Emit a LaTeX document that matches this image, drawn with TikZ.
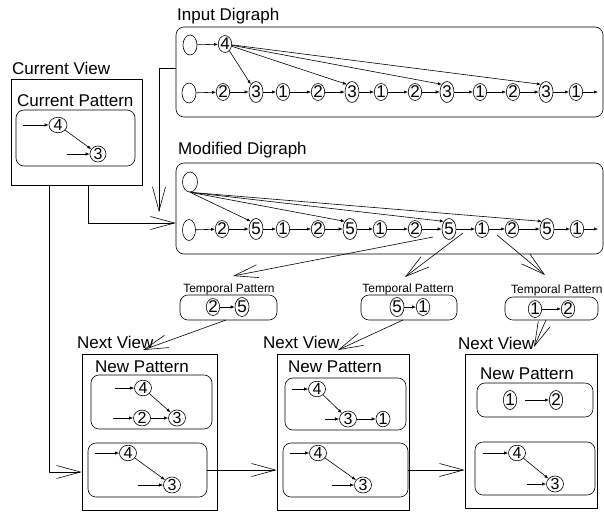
\documentclass[tikz,border=0pt]{standalone}
\usepackage{fontspec}
\setmainfont{Liberation Sans}
\usetikzlibrary{shapes.geometric,arrows.meta,fit}
\begin{document}
\begin{tikzpicture}[x=1pt,y=-1pt,
  ln/.style={line width=0.6pt},
  rbox/.style={draw, ln, rounded corners=8pt, inner sep=0pt},
  sqbox/.style={draw, ln, inner sep=0pt},
  ell/.style={ellipse, draw, ln, inner sep=0pt, minimum width=14pt, minimum height=20pt},
  dn/.style={ellipse, draw, ln, inner sep=0pt, minimum width=13pt, minimum height=17pt, font=\fontsize{17}{17}\selectfont},
  dnt/.style={dn, minimum width=14pt, minimum height=21pt},
  pn/.style={ellipse, draw, ln, inner sep=0pt, minimum width=17pt, minimum height=14pt, font=\fontsize{16}{16}\selectfont},
  ttl/.style={font=\fontsize{17}{17}\selectfont, anchor=base west, inner sep=0pt},
  tpl/.style={font=\fontsize{12}{12}\selectfont, anchor=base, inner sep=0pt},
  sa/.style={ln, -{Latex[length=4pt,width=3.2pt]}},
  ba/.style={ln, -{Straight Barb[length=24pt,width=13pt]}}
]
\useasboundingbox (0,0) rectangle (604,512);

% ---------- Input Digraph ----------
\node[ttl] (tin) at (177,20) {Input Digraph};
\node[rbox, fit={(176,27) (603,117)}] (inbox) {};
\node[ell] (ie1) at (190,45) {};
\node[dn] (i4) at (225,44) {4};
\draw[sa] (ie1) -- (i4);
\node[ell] (ie2) at (189,93) {};
\foreach \x/\l/\s [count=\i] in {223/2/dn,256/3/dnt,283/1/dn,318/2/dn,352/3/dnt,381/1/dn,415/2/dn,447/3/dnt,480/1/dn,513/2/dn,546/3/dnt,576/1/dn}
  {\node[\s] (ib\i) at (\x,92) {\l};}
\draw[sa] (ie2) -- (ib1);
\foreach \a/\b in {1/2,2/3,3/4,4/5,5/6,6/7,7/8,8/9,9/10,10/11,11/12}
  {\draw[sa] (ib\a) -- (ib\b);}
\coordinate (iend) at (598,92);
\draw[sa] (ib12) -- (iend);
\foreach \j in {2,5,8,11} {\draw[sa] (i4) -- (ib\j.north west);}

% ---------- Modified Digraph ----------
\node[ttl] (tmod) at (178,154) {Modified Digraph};
\node[rbox, fit={(176,163) (603,254)}] (modbox) {};
\node[ell, minimum width=15pt] (me1) at (190,182) {};
\node[ell, minimum width=13pt, minimum height=21pt] (me2) at (189,230) {};
\foreach \x/\l/\s [count=\i] in {222/2/dn,256/5/dnt,283/1/dn,318/2/dn,350/5/dnt,380/1/dn,415/2/dn,449/5/dnt,482/1/dn,512/2/dn,547/5/dnt,577/1/dn}
  {\node[\s] (mb\i) at (\x,229) {\l};}
\draw[sa] (me2) -- (mb1);
\foreach \a/\b in {1/2,2/3,3/4,4/5,5/6,6/7,7/8,8/9,9/10,10/11,11/12}
  {\draw[sa] (mb\a) -- (mb\b);}
\coordinate (mend) at (598,229);
\draw[sa] (mb12) -- (mend);
\foreach \j in {2,5,8,11} {\draw[sa] (me1.south) -- (mb\j.north west);}

% ---------- Current View ----------
\node[ttl] (tcv) at (12,74) {Current View};
\node[sqbox, fit={(11,79) (142,185)}] (cv) {};
\node[ttl] (tcp) at (17,106) {Current Pattern};
\node[rbox, fit={(16,110) (135,166)}] (cp) {};
\node[pn, minimum width=18pt] (g4) at (58,125) {4};
\node[pn, minimum width=16pt, minimum height=13pt] (g3) at (98,154) {3};
\coordinate (g4in) at (23,125);
\coordinate (g3in) at (67,154);
\draw[sa] (g4in) -- (g4);
\draw[sa] (g3in) -- (g3);
\draw[sa] (g4) -- (g3);

% ---------- connectors between views and digraphs ----------
\coordinate (dtip) at (159,212);
\draw[ba] ([yshift=4pt]inbox.west) -| (dtip);
\draw[ba] ([xshift=11.5pt]cv.south) |- ([yshift=-14.5pt]modbox.west);

% ---------- Temporal Patterns ----------
\node[tpl] (ttp1) at (229,292) {Temporal Pattern};
\node[rbox, fit={(180,295) (277,320)}] (tp1) {};
\node[dn] (t1a) at (213,307) {2};
\node[dnt, minimum height=19pt] (t1b) at (242,307) {5};
\draw[sa] (t1a) -- (t1b);

\node[tpl] (ttp2) at (408,292) {Temporal Pattern};
\node[rbox, fit={(361,295) (457,320)}] (tp2) {};
\node[dnt, minimum height=19pt] (t2a) at (397,307) {5};
\node[dn] (t2b) at (423,307) {1};
\draw[sa] (t2a) -- (t2b);

\node[tpl, anchor=base west] (ttp3) at (511,293) {Temporal Pattern};
\node[rbox, fit={(505,297) (598,320)}] (tp3) {};
\node[dn] (t3a) at (535,309) {1};
\node[dn] (t3b) at (568,309) {2};
\draw[sa] (t3a) -- (t3b);

\coordinate (s1) at (433,237); \coordinate (e1) at (233,276);
\coordinate (s2) at (463,233); \coordinate (e2) at (405,277);
\coordinate (s3) at (497,235); \coordinate (e3) at (545,275);
\draw[ba] (s1) -- (e1);
\draw[ba] (s2) -- (e2);
\draw[ba] (s3) -- (e3);

% ---------- Next Views ----------
\node[ttl] (tnv1) at (77,348) {Next View};
\node[ttl] (tnv2) at (263,348) {Next View};
\node[ttl] (tnv3) at (458,349) {Next View};
\node[sqbox, fit={(82,354) (217,510)}] (nv1) {};
\node[sqbox, fit={(277,354) (409,510)}] (nv2) {};
\node[sqbox, fit={(465,354) (597,508)}] (nv3) {};
\node[ttl] (tnp1) at (95,372) {New Pattern};
\node[ttl] (tnp2) at (288,372) {New Pattern};
\node[ttl] (tnp3) at (480,379) {New Pattern};
\node[rbox, fit={(91,375) (212,429)}] (nv1a) {};
\node[rbox, fit={(88,443) (207,497)}] (nv1b) {};
\node[rbox, fit={(285,378) (406,430)}] (nv2a) {};
\node[rbox, fit={(283,443) (408,497)}] (nv2b) {};
\node[rbox, fit={(477,383) (593,417)}] (nv3a) {};
\node[rbox, fit={(475,442) (595,495)}] (nv3b) {};

\coordinate (q1s) at (226,320); \coordinate (q1e) at (143,350);
\coordinate (q2s) at (403,320); \coordinate (q2e) at (338,350);
\coordinate (q3s) at (546,320); \coordinate (q3e) at (534,347);
\draw[ba] (q1s) -- (q1e);
\draw[ba] (q2s) -- (q2e);
\draw[ba] (q3s) -- (q3e);

\draw[ba] ([xshift=-27.5pt]cv.south) |- ([yshift=-40pt]nv1.west);
\draw[ba] (nv1b.east) -- (nv1b.east -| nv2.west);
\draw[ba] (nv2b.east) -- (nv2b.east -| nv3.west);

% box 1 top
\node[pn] (a4) at (143,388) {4};
\node[pn] (a2) at (142,418) {2};
\node[pn, minimum height=16pt] (a3) at (177,418) {3};
\coordinate (a4in) at (115,388); \coordinate (a2in) at (113,418);
\draw[sa] (a4in) -- (a4);
\draw[sa] (a2in) -- (a2);
\draw[sa] (a2) -- (a3);
\draw[sa] (a4) -- (a3);
% box 1 bottom
\node[pn] (b4) at (128,453) {4};
\node[pn] (b3) at (172,485) {3};
\coordinate (b4in) at (95,453); \coordinate (b3in) at (138,485);
\draw[sa] (b4in) -- (b4);
\draw[sa] (b3in) -- (b3);
\draw[sa] (b4) -- (b3);
% box 2 top
\node[pn] (c4) at (317,389) {4};
\node[pn] (c3) at (348,419) {3};
\node[pn, minimum width=14pt] (c1) at (383,419) {1};
\coordinate (c4in) at (292,389); \coordinate (c3in) at (325,419);
\draw[sa] (c4in) -- (c4);
\draw[sa] (c3in) -- (c3);
\draw[sa] (c3) -- (c1);
\draw[sa] (c4) -- (c3);
% box 2 bottom
\node[pn] (d4) at (318,453) {4};
\node[pn] (d3) at (363,485) {3};
\coordinate (d4in) at (290,453); \coordinate (d3in) at (332,485);
\draw[sa] (d4in) -- (d4);
\draw[sa] (d3in) -- (d3);
\draw[sa] (d4) -- (d3);
% box 3 top
\node[dn, minimum height=19pt] (f1) at (510,400) {1};
\node[dn, minimum height=19pt] (f2) at (556,400) {2};
\draw[sa, shorten <=8pt] (f1) -- (f2);
% box 3 bottom
\node[pn] (h4) at (517,453) {4};
\node[pn] (h3) at (555,484) {3};
\coordinate (h4in) at (483,453); \coordinate (h3in) at (527,484);
\draw[sa] (h4in) -- (h4);
\draw[sa] (h3in) -- (h3);
\draw[sa] (h4) -- (h3);
\end{tikzpicture}
\end{document}
